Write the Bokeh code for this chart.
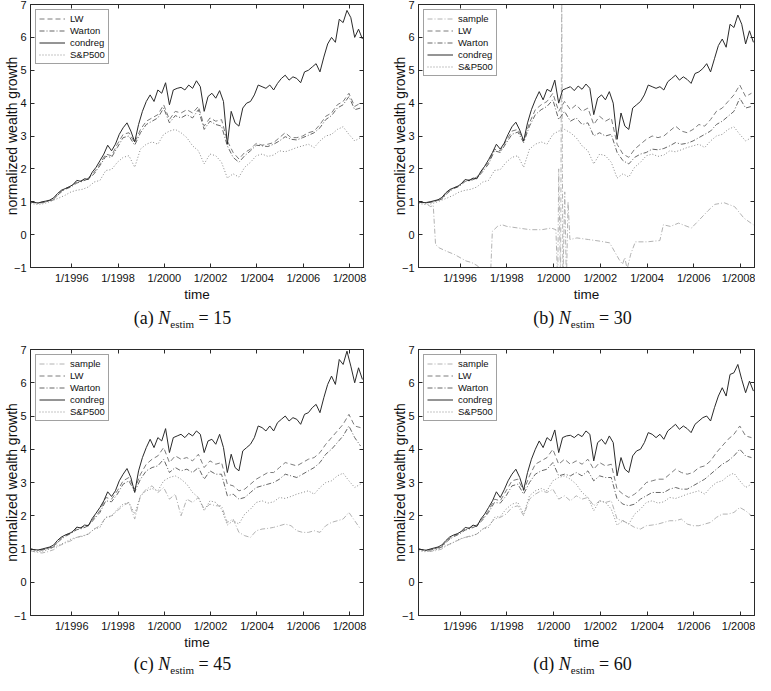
import math
from bokeh.plotting import figure
from bokeh.models import Range1d, FixedTicker, LinearAxis, Div
from bokeh.layouts import row, column
from bokeh.embed import file_html
from bokeh.resources import INLINE

# ---------------- data ----------------
# time grids (decimal years)
t_cond = [1994.22 + k / 6 for k in range(87)]
t_quarter = [1994.22 + k / 4 for k in range(58)]

x_tick_years = [1996, 1998, 2000, 2002, 2004, 2006, 2008]
x_tick_labels = ["1/1996", "1/1998", "1/2000", "1/2002", "1/2004", "1/2006", "1/2008"]
y_ticks = [-1, 0, 1, 2, 3, 4, 5, 6, 7]
y_tick_labels = ["\u22121", "0", "1", "2", "3", "4", "5", "6", "7"]

panel_letters = ["a", "b", "c", "d"]
n_estim_values = ["15", "30", "45", "60"]

sp500 = [0.95, 0.92, 0.93, 0.98, 1.05, 1.12, 1.20, 1.30, 1.35, 1.38,
         1.45, 1.60, 1.65, 1.95, 1.98, 2.20, 2.35, 2.40, 2.05, 2.60,
         2.75, 2.82, 2.75, 3.05, 3.15, 3.20, 3.10, 2.95, 2.70, 2.55,
         2.15, 2.45, 2.40, 2.20, 1.72, 1.85, 1.75, 2.05, 2.20, 2.40,
         2.45, 2.38, 2.42, 2.55, 2.52, 2.58, 2.65, 2.70, 2.75, 2.65,
         2.85, 3.00, 3.05, 3.20, 3.28, 3.05, 2.85, 2.95]

# panel (a) N_estim = 15
condreg_a = [1.00, 0.98, 0.96, 1.00, 1.02, 1.05, 1.12, 1.25, 1.35, 1.40,
             1.45, 1.52, 1.65, 1.62, 1.70, 1.68, 1.90, 2.05, 2.25, 2.45,
             2.72, 2.55, 2.75, 3.05, 3.25, 3.40, 3.15, 2.82, 3.35, 3.75,
             4.05, 4.25, 4.05, 4.40, 4.30, 4.62, 3.95, 4.40, 4.45, 4.48,
             4.40, 4.55, 4.45, 4.68, 4.50, 3.75, 4.20, 4.30, 4.15, 4.38,
             4.05, 2.75, 3.75, 3.40, 3.30, 3.85, 4.00, 4.05, 4.25, 4.55,
             4.50, 4.45, 4.55, 4.40, 4.60, 4.75, 4.85, 4.70, 4.80, 4.75,
             4.62, 4.95, 5.00, 5.10, 5.20, 4.95, 5.40, 5.80, 6.00, 5.85,
             6.55, 6.45, 6.82, 6.60, 6.00, 6.25, 5.95]
lw_a = [1.00, 0.97, 0.98, 1.02, 1.08, 1.28, 1.40, 1.48, 1.60, 1.65,
        1.72, 1.90, 2.15, 2.45, 2.40, 2.75, 3.05, 3.10, 2.80, 3.20,
        3.45, 3.55, 3.65, 3.95, 3.50, 3.75, 3.70, 3.80, 3.70, 3.90,
        3.30, 3.55, 3.45, 3.50, 2.85, 2.50, 2.30, 2.50, 2.60, 2.78,
        2.72, 2.75, 2.80, 2.95, 3.10, 2.95, 2.95, 3.00, 3.10, 3.15,
        3.35, 3.60, 3.70, 3.95, 4.05, 4.30, 3.90, 4.00]
warton_a = [1.00, 0.96, 0.97, 1.01, 1.06, 1.25, 1.38, 1.45, 1.57, 1.62,
            1.70, 1.85, 2.10, 2.38, 2.35, 2.65, 2.95, 3.00, 2.72, 3.10,
            3.35, 3.45, 3.55, 3.85, 3.40, 3.62, 3.55, 3.65, 3.55, 3.80,
            3.20, 3.45, 3.35, 3.30, 2.70, 2.35, 2.20, 2.40, 2.55, 2.72,
            2.70, 2.68, 2.75, 2.85, 2.98, 2.90, 2.88, 2.95, 3.02, 3.10,
            3.25, 3.50, 3.62, 3.85, 3.95, 4.20, 3.80, 3.85]

# panel (b) N_estim = 30
condreg_b = [1.00, 0.98, 0.97, 1.00, 1.03, 1.06, 1.13, 1.27, 1.37, 1.42,
             1.46, 1.55, 1.68, 1.64, 1.72, 1.70, 1.92, 2.08, 2.28, 2.50,
             2.75, 2.60, 2.78, 3.05, 3.28, 3.42, 3.18, 2.85, 3.40, 3.80,
             4.10, 4.35, 4.10, 4.42, 4.35, 4.70, 4.00, 4.40, 4.45, 4.50,
             4.38, 4.52, 4.42, 4.58, 4.45, 3.65, 4.15, 4.25, 4.10, 4.35,
             4.00, 2.90, 3.70, 3.30, 3.20, 3.85, 3.95, 4.05, 4.25, 4.55,
             4.50, 4.45, 4.50, 4.40, 4.65, 4.75, 4.85, 4.70, 4.80, 4.72,
             4.60, 4.90, 4.95, 5.05, 5.20, 4.95, 5.35, 5.75, 5.95, 5.70,
             6.40, 6.30, 6.68, 6.40, 5.80, 6.20, 5.85]
lw_b = [1.00, 0.98, 0.99, 1.03, 1.10, 1.30, 1.42, 1.50, 1.65, 1.68,
        1.75, 1.98, 2.20, 2.60, 2.55, 2.85, 3.15, 3.20, 2.85, 3.40,
        3.80, 3.95, 4.05, 4.30, 3.75, 4.05, 3.80, 3.95, 3.75, 3.85,
        3.35, 3.60, 3.45, 3.55, 2.75, 2.45, 2.35, 2.60, 2.75, 2.90,
        3.00, 2.95, 3.00, 3.15, 3.30, 3.15, 3.10, 3.20, 3.35, 3.30,
        3.50, 3.75, 3.85, 4.05, 4.25, 4.55, 4.20, 4.30]
warton_b = [1.00, 0.97, 0.98, 1.02, 1.08, 1.27, 1.40, 1.47, 1.62, 1.65,
            1.72, 1.92, 2.15, 2.55, 2.50, 2.78, 3.05, 3.12, 2.80, 3.30,
            3.65, 3.80, 3.90, 4.10, 3.50, 3.75, 3.45, 3.55, 3.35, 3.40,
            3.00, 3.10, 3.00, 3.05, 2.50, 2.25, 2.15, 2.35, 2.45, 2.50,
            2.60, 2.58, 2.62, 2.70, 2.80, 2.75, 2.78, 2.85, 2.95, 3.05,
            3.15, 3.35, 3.45, 3.60, 3.75, 4.15, 3.85, 3.90]
t_sample_b = [1994.22, 1994.5, 1994.75, 1994.85, 1994.95, 1995.1, 1995.4, 1995.75, 1996.0, 1996.25,
              1996.5, 1996.75, 1997.0, 1997.3, 1997.38, 1997.6, 1997.8, 1998.0, 1998.5, 1999.0,
              1999.5, 1999.9, 2000.1, 2000.18, 2000.22, 2000.3, 2000.35, 2000.4, 2000.48, 2000.55,
              2000.62, 2000.7, 2001.0, 2001.5, 2002.0, 2002.4, 2002.6, 2002.8, 2002.95, 2003.05,
              2003.15, 2003.3, 2003.5, 2004.0, 2004.55, 2004.7, 2005.0, 2005.35, 2005.9, 2006.2,
              2006.6, 2006.9, 2007.3, 2007.75, 2008.15, 2008.55]
sample_b = [1.0, 0.95, 0.85, 0.9, -0.3, -0.4, -0.5, -0.6, -0.7, -0.8,
            -0.85, -0.95, -1.2, -1.3, 0.1, 0.25, 0.3, 0.25, 0.2, 0.15,
            0.15, 0.2, 0.15, -1.5, 2.0, -1.5, 7.5, -1.5, 1.3, -1.5,
            1.0, -0.15, -0.1, -0.15, -0.2, -0.25, -0.5, -0.75, -0.9, -0.7,
            -1.05, -0.6, -0.22, -0.22, -0.18, 0.3, 0.25, 0.35, 0.2, 0.42,
            0.72, 0.92, 0.97, 0.85, 0.5, 0.3]

# panel (c) N_estim = 45
condreg_c = [1.00, 0.98, 0.97, 1.00, 1.03, 1.06, 1.12, 1.26, 1.36, 1.42,
             1.46, 1.53, 1.66, 1.63, 1.72, 1.70, 1.92, 2.08, 2.25, 2.45,
             2.72, 2.58, 2.75, 3.05, 3.25, 3.42, 3.15, 2.70, 3.35, 3.75,
             4.05, 4.30, 4.05, 4.35, 4.25, 4.62, 3.90, 4.35, 4.40, 4.45,
             4.35, 4.48, 4.40, 4.55, 4.45, 3.90, 4.25, 4.30, 4.15, 4.45,
             4.05, 3.30, 3.85, 3.45, 3.35, 3.95, 4.05, 4.15, 4.35, 4.70,
             4.65, 4.55, 4.70, 4.55, 4.80, 4.90, 5.00, 4.85, 4.95, 4.90,
             4.75, 5.05, 5.10, 5.25, 5.35, 5.10, 5.55, 5.95, 6.20, 5.95,
             6.70, 6.55, 6.95, 6.50, 6.00, 6.45, 6.10]
lw_c = [1.00, 0.97, 0.98, 1.02, 1.08, 1.28, 1.42, 1.50, 1.62, 1.66,
        1.72, 1.95, 2.15, 2.55, 2.50, 2.75, 3.05, 3.15, 2.80, 3.25,
        3.55, 3.70, 3.80, 4.05, 3.60, 3.80, 3.70, 3.75, 3.65, 3.85,
        3.45, 3.65, 3.55, 3.60, 2.95, 2.90, 2.75, 2.80, 2.95, 3.10,
        3.20, 3.30, 3.30, 3.45, 3.60, 3.55, 3.50, 3.60, 3.70, 3.75,
        3.90, 4.15, 4.35, 4.55, 4.75, 5.05, 4.70, 4.65]
warton_c = [1.00, 0.96, 0.97, 1.01, 1.06, 1.25, 1.38, 1.47, 1.58, 1.62,
            1.70, 1.90, 2.10, 2.45, 2.42, 2.65, 2.95, 3.05, 2.72, 3.10,
            3.35, 3.45, 3.50, 3.70, 3.30, 3.45, 3.35, 3.40, 3.30, 3.45,
            3.10, 3.35, 3.25, 3.25, 2.60, 2.65, 2.50, 2.55, 2.70, 2.85,
            2.90, 2.95, 3.00, 3.10, 3.25, 3.20, 3.15, 3.25, 3.35, 3.45,
            3.60, 3.85, 4.00, 4.20, 4.40, 4.70, 4.35, 4.10]
sample_c = [0.95, 0.90, 0.88, 0.92, 0.98, 1.10, 1.18, 1.25, 1.35, 1.40,
            1.45, 1.60, 1.70, 1.95, 2.00, 2.15, 2.30, 2.40, 1.90, 2.60,
            2.80, 2.90, 2.70, 2.85, 2.50, 2.65, 2.00, 2.50, 2.40, 2.55,
            2.20, 2.35, 2.30, 2.30, 1.80, 1.90, 1.50, 1.40, 1.35, 1.55,
            1.60, 1.62, 1.65, 1.70, 1.75, 1.70, 1.55, 1.50, 1.50, 1.55,
            1.50, 1.70, 1.80, 1.85, 1.90, 2.10, 1.85, 1.60]

# panel (d) N_estim = 60
condreg_d = [1.00, 0.98, 0.96, 1.00, 1.03, 1.06, 1.12, 1.25, 1.36, 1.42,
             1.46, 1.53, 1.65, 1.62, 1.72, 1.68, 1.90, 2.05, 2.25, 2.45,
             2.72, 2.55, 2.78, 3.05, 3.25, 3.40, 3.15, 2.78, 3.30, 3.70,
             4.00, 4.25, 4.05, 4.35, 4.25, 4.58, 3.90, 4.35, 4.40, 4.42,
             4.35, 4.45, 4.38, 4.55, 4.45, 3.65, 4.20, 4.30, 4.15, 4.40,
             4.20, 3.20, 3.75, 3.40, 3.30, 3.80, 3.95, 4.00, 4.20, 4.50,
             4.45, 4.35, 4.45, 4.30, 4.55, 4.65, 4.75, 4.60, 4.70, 4.62,
             4.50, 4.75, 4.85, 4.95, 5.00, 4.85, 5.25, 5.60, 5.85, 5.60,
             6.25, 6.30, 6.55, 6.10, 5.70, 6.05, 5.75]
lw_d = [1.00, 0.97, 0.98, 1.02, 1.08, 1.28, 1.40, 1.48, 1.60, 1.65,
        1.72, 1.92, 2.15, 2.50, 2.45, 2.75, 3.05, 3.10, 2.75, 3.20,
        3.55, 3.65, 3.75, 4.00, 3.55, 3.70, 3.55, 3.65, 3.55, 3.70,
        3.40, 3.60, 3.50, 3.55, 2.80, 2.65, 2.55, 2.65, 2.80, 3.00,
        3.05, 3.10, 3.10, 3.25, 3.40, 3.30, 3.25, 3.30, 3.45, 3.50,
        3.65, 3.90, 4.10, 4.30, 4.45, 4.70, 4.40, 4.35]
warton_d = [1.00, 0.96, 0.97, 1.01, 1.06, 1.25, 1.37, 1.45, 1.57, 1.62,
            1.70, 1.88, 2.10, 2.40, 2.38, 2.60, 2.90, 2.95, 2.65, 3.00,
            3.25, 3.35, 3.40, 3.60, 3.20, 3.25, 3.20, 3.30, 3.20, 3.35,
            3.05, 3.20, 3.15, 3.15, 2.50, 2.35, 2.30, 2.35, 2.50, 2.60,
            2.70, 2.70, 2.70, 2.80, 2.85, 2.80, 2.80, 2.90, 3.00, 3.10,
            3.25, 3.40, 3.55, 3.65, 3.80, 4.00, 3.80, 3.75]
sample_d = [1.00, 0.95, 0.93, 0.95, 1.00, 1.12, 1.20, 1.28, 1.35, 1.40,
            1.45, 1.60, 1.70, 1.90, 1.95, 2.05, 2.25, 2.30, 2.00, 2.50,
            2.65, 2.75, 2.70, 2.80, 2.50, 2.60, 2.45, 2.60, 2.50, 2.55,
            2.30, 2.45, 2.40, 2.45, 1.90, 1.85, 1.75, 1.65, 1.60, 1.70,
            1.72, 1.75, 1.80, 1.85, 1.85, 1.90, 1.75, 1.70, 1.70, 1.75,
            1.80, 1.95, 2.05, 2.05, 2.10, 2.25, 2.15, 2.00]

# ---------------- styling ----------------
SANS = "Liberation Sans"
INK = "#2a2a2a"
X0, X1 = 1994.22, 2008.6

STYLES = {
    "sample": dict(line_color="#b2b2b2", line_dash="5 2 1 2", line_width=1),
    "LW": dict(line_color="#7c7c7c", line_dash="5 3", line_width=1),
    "Warton": dict(line_color="#666666", line_dash="5 2 1 2", line_width=1),
    "condreg": dict(line_color="#2a2a2a", line_width=1),
    "S&P500": dict(line_color="#8a8a8a", line_dash="1 2", line_width=1),
}


def style_axis(ax, ticks, labels, show_labels):
    ax.ticker = FixedTicker(ticks=ticks)
    ax.minor_tick_line_color = None
    ax.major_tick_in = 4
    ax.major_tick_out = 0
    ax.axis_line_color = INK
    ax.major_tick_line_color = INK
    if show_labels:
        ax.major_label_overrides = {t: s for t, s in zip(ticks, labels)}
        ax.major_label_text_font = SANS
        ax.major_label_text_font_size = "11px"
        ax.major_label_text_color = "#111111"
        ax.major_label_standoff = 4
    else:
        ax.major_label_overrides = {t: "" for t in ticks}
        ax.major_label_text_font_size = "0px"
        ax.major_label_standoff = 0


def make_panel(series, width, height, bl, br, bt, bb):
    p = figure(width=width, height=height, x_range=Range1d(X0, X1), y_range=Range1d(-1, 7),
               output_backend="svg", toolbar_location=None,
               min_border_left=bl, min_border_right=br, min_border_top=bt, min_border_bottom=bb)
    p.xgrid.visible = False
    p.ygrid.visible = False
    p.outline_line_color = INK
    p.outline_line_width = 1
    p.background_fill_color = "white"
    p.border_fill_color = "white"

    for name, xs, ys in series:
        p.line(xs, ys, legend_label=name, **STYLES[name])

    style_axis(p.xaxis[0], x_tick_years, x_tick_labels, True)
    style_axis(p.yaxis[0], y_ticks, y_tick_labels, True)

    xa = p.xaxis[0]
    xa.axis_label = "time"
    xa.axis_label_standoff = 0
    xa.axis_label_text_font = SANS
    xa.axis_label_text_font_size = "13.5px"
    xa.axis_label_text_font_style = "normal"
    xa.axis_label_text_color = "#111111"

    ya = p.yaxis[0]
    ya.axis_label = "normalized wealth growth"
    ya.axis_label_standoff = -9
    ya.axis_label_text_font = SANS
    ya.axis_label_text_font_size = "14px"
    ya.axis_label_text_font_style = "normal"
    ya.axis_label_text_color = "#111111"

    top = LinearAxis()
    style_axis(top, x_tick_years, x_tick_labels, False)
    p.add_layout(top, "above")
    right = LinearAxis()
    style_axis(right, y_ticks, y_tick_labels, False)
    p.add_layout(right, "right")

    lg = p.legend[0]
    lg.location = "top_left"
    lg.margin = 5
    lg.padding = 3
    lg.spacing = 1
    lg.label_height = 11
    lg.glyph_height = 11
    lg.glyph_width = 26
    lg.label_standoff = 5
    lg.label_text_font = SANS
    lg.label_text_font_size = "9.5px"
    lg.label_text_color = "#111111"
    lg.border_line_color = "#444444"
    lg.border_line_width = 1
    lg.background_fill_color = "white"
    lg.background_fill_alpha = 1.0
    return p


def make_caption(idx, width, height, line_h, pad_l, pad_r):
    html = (
        f'<div style="width:{width}px;height:{height}px;line-height:{line_h}px;'
        f'text-align:center;padding-left:{pad_l}px;padding-right:{pad_r}px;box-sizing:border-box;'
        f"font-family:'Liberation Serif',serif;font-size:18px;color:#111;white-space:nowrap;\">"
        f'({panel_letters[idx]})&nbsp;<i>N</i><sub style="font-size:11px;vertical-align:-4px;">estim</sub>'
        f'&nbsp;=&nbsp;{n_estim_values[idx]}</div>'
    )
    return Div(text=html, width=width, height=height, margin=0)


series_a = [("LW", t_quarter, lw_a), ("Warton", t_quarter, warton_a),
            ("condreg", t_cond, condreg_a), ("S&P500", t_quarter, sp500)]
series_b = [("sample", t_sample_b, sample_b), ("LW", t_quarter, lw_b), ("Warton", t_quarter, warton_b),
            ("condreg", t_cond, condreg_b), ("S&P500", t_quarter, sp500)]
series_c = [("sample", t_quarter, sample_c), ("LW", t_quarter, lw_c), ("Warton", t_quarter, warton_c),
            ("condreg", t_cond, condreg_c), ("S&P500", t_quarter, sp500)]
series_d = [("sample", t_quarter, sample_d), ("LW", t_quarter, lw_d), ("Warton", t_quarter, warton_d),
            ("condreg", t_cond, condreg_d), ("S&P500", t_quarter, sp500)]

pa = make_panel(series_a, 377, 305, 24, 14, 4, 38)
pb = make_panel(series_b, 378, 305, 41, 1, 4, 38)
pc = make_panel(series_c, 377, 316, 24, 14, 12, 38)
pd = make_panel(series_d, 378, 316, 41, 1, 12, 38)

cap_a = make_caption(0, 377, 32, 26, 0, 12)
cap_b = make_caption(1, 378, 32, 26, 33, 0)
cap_c = make_caption(2, 377, 22, 22, 0, 12)
cap_d = make_caption(3, 378, 22, 22, 33, 0)

layout = column(row(pa, pb, spacing=0), row(cap_a, cap_b, spacing=0),
                row(pc, pd, spacing=0), row(cap_c, cap_d, spacing=0), spacing=0)

open("out.html", "w").write(file_html(layout, INLINE))
